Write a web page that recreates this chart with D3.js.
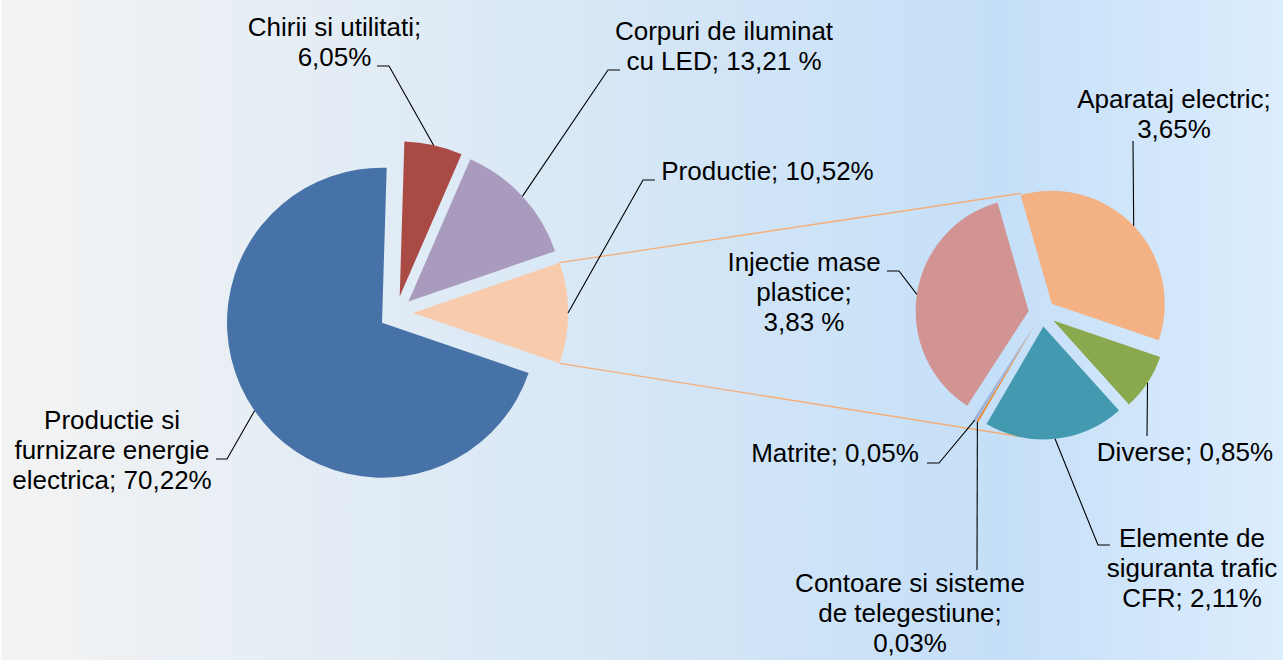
<!DOCTYPE html>
<html>
<head>
<meta charset="utf-8">
<script src="https://cdn.jsdelivr.net/npm/d3@7"></script>
<style>
  html, body { margin: 0; padding: 0; background: #ffffff; }
  svg { display: block; }
  text { font-family: "Liberation Sans", Arial, sans-serif; font-size: 26px; fill: #000; }
</style>
</head>
<body>
<svg id="chart" width="1283" height="660"></svg>
<script>

// main pie (the "Productie" slice is split in the second pie)
var mainNames = ["Chirii si utilitati", "Corpuri de iluminat cu LED", "Productie", "Productie si furnizare energie electrica"];
var mainValues = [6.05, 13.21, 10.52, 70.22];
var mainText = [["Chirii si utilitati;", "6,05%"], ["Corpuri de iluminat", "cu LED; 13,21 %"], ["Productie; 10,52%"], ["Productie si", "furnizare energie", "electrica; 70,22%"]];
var mainColors = ["#aa4a45", "#a99bbd", "#f8cbad", "#4672a7"];

// second pie, clockwise from top
var subNames = ["Aparataj electric", "Diverse", "Elemente de siguranta trafic CFR", "Contoare si sisteme de telegestiune", "Matrite", "Injectie mase plastice"];
var subValues = [3.65, 0.85, 2.11, 0.03, 0.05, 3.83];
var subText = [["Aparataj electric;", "3,65%"], ["Diverse; 0,85%"], ["Elemente de", "siguranta trafic", "CFR; 2,11%"], ["Contoare si sisteme", "de telegestiune;", "0,03%"], ["Matrite; 0,05%"], ["Injectie mase", "plastice;", "3,83 %"]];
var subColors = ["#f4b183", "#8aa84d", "#4299b0", "#e8892e", "#9eb1d8", "#d19493"];

var otherIndex = 2;

function render() {

	var width = 1283;
	var height = 660;
	var svg = d3.select("#chart");
	var lineGap = 30;

	var main = { cx: 396, cy: 313, r: 155, explode: 17 };
	var sub = { cx: 1042, cy: 313, r: 113, explode: 13.5 };

	// label anchors: x,y = centre of first line; leader = label side points
	var mainPlace = [
		{ x: 334.5, y: 36, leader: [[377, 66], [389, 66]] },
		{ x: 724, y: 40, leader: [[620, 70], [608, 70]] },
		{ x: 767.5, y: 180, leader: [[655, 180], [643, 180]] },
		{ x: 112, y: 429, leader: [[216, 459], [227, 459]] }
	];
	var subPlace = [
		{ x: 1174, y: 108, leader: [[1133, 141]] },
		{ x: 1185, y: 461, leader: [[1147, 436]] },
		{ x: 1192, y: 547, leader: [[1110, 545], [1098, 545]] },
		{ x: 910, y: 592, leader: [[977, 570]] },
		{ x: 835, y: 462, leader: [[927, 463], [939, 463]] },
		{ x: 804, y: 271, leader: [[887, 271], [899, 271]] }
	];

	var defs = svg.append("defs");
	var grad = defs.append("linearGradient")
		.attr("id", "bg")
		.attr("x1", "0%").attr("x2", "100%")
		.attr("y1", "0%").attr("y2", "0%");
	grad.append("stop").attr("offset", "0%").attr("stop-color", "#f3f3f3");
	grad.append("stop").attr("offset", "45%").attr("stop-color", "#d8e8f6");
	grad.append("stop").attr("offset", "78%").attr("stop-color", "#c5dff8");
	grad.append("stop").attr("offset", "100%").attr("stop-color", "#dcedfd");

	svg.append("rect")
		.attr("x", 1).attr("y", 0)
		.attr("width", width - 1).attr("height", height)
		.attr("fill", "url(#bg)");

	var total = d3.sum(mainValues);
	var before = d3.sum(mainValues.slice(0, otherIndex));
	// rotate so the split slice is centred at 3 o'clock
	var mainStart = Math.PI / 2 - (before + mainValues[otherIndex] / 2) / total * 2 * Math.PI;

	var mainArcs = d3.pie().sort(null)
		.startAngle(mainStart)
		.endAngle(mainStart + 2 * Math.PI)(mainValues);

	var subStart = -16 * Math.PI / 180;
	var subArcs = d3.pie().sort(null)
		.startAngle(subStart)
		.endAngle(subStart + 2 * Math.PI)(subValues);

	function mid(d) { return (d.startAngle + d.endAngle) / 2; }

	function pt(c, a, dist) {
		return [c.cx + Math.sin(a) * dist, c.cy - Math.cos(a) * dist];
	}

	// connector lines between the split slice and the second pie
	var other = mainArcs[otherIndex];
	var otherCentre = pt(main, mid(other), main.explode);
	var topA = [otherCentre[0] + Math.sin(other.startAngle) * main.r, otherCentre[1] - Math.cos(other.startAngle) * main.r];
	var botA = [otherCentre[0] + Math.sin(other.endAngle) * main.r, otherCentre[1] - Math.cos(other.endAngle) * main.r];
	var topB = pt(sub, -10 * Math.PI / 180, sub.r + sub.explode - 5);
	var botB = pt(sub, 190 * Math.PI / 180, sub.r + sub.explode - 1);

	svg.append("g").selectAll("line")
		.data([[topA, topB], [botA, botB]])
		.enter()
		.append("line")
		.attr("x1", d => d[0][0]).attr("y1", d => d[0][1])
		.attr("x2", d => d[1][0]).attr("y2", d => d[1][1])
		.attr("stroke", "#f5ad78")
		.attr("stroke-width", 1.3);

	function drawPie(arcs, c, colors, cls) {

		var arc = d3.arc().innerRadius(0).outerRadius(c.r);

		svg.append("g")
			.attr("class", cls)
			.selectAll("path")
			.data(arcs)
			.enter()
			.append("path")
			.attr("d", arc)
			.attr("fill", (d, i) => colors[i])
			.attr("transform", d => {
				var p = pt(c, mid(d), c.explode);
				return "translate(" + p[0] + "," + p[1] + ")";
			});
	}

	drawPie(mainArcs, main, mainColors, "main");
	drawPie(subArcs, sub, subColors, "sub");

	function drawLabels(arcs, c, texts, places) {

		var g = svg.append("g");

		g.selectAll("polyline")
			.data(arcs)
			.enter()
			.append("polyline")
			.attr("points", (d, i) => {
				var pts = places[i].leader.concat([pt(c, mid(d), c.r + c.explode)]);
				return pts.map(p => p.join(",")).join(" ");
			})
			.attr("fill", "none")
			.attr("stroke", "#000")
			.attr("stroke-width", 1.1);

		g.selectAll("text")
			.data(arcs)
			.enter()
			.append("text")
			.attr("text-anchor", "middle")
			.each(function(d, i) {
				var t = d3.select(this);
				texts[i].forEach(function(line, k) {
					t.append("tspan")
						.attr("x", places[i].x)
						.attr("y", places[i].y + k * lineGap)
						.text(line);
				});
			});
	}

	drawLabels(mainArcs, main, mainText, mainPlace);
	drawLabels(subArcs, sub, subText, subPlace);
}

render();
</script>
</body>
</html>
